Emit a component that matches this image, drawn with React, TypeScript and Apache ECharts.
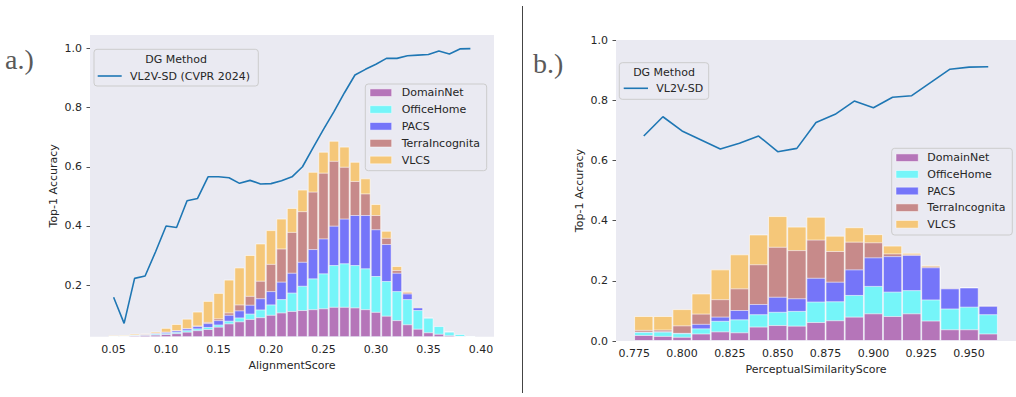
import React, { useEffect, useRef } from 'react';
import * as echarts from 'echarts';

// ---------- data ----------
const datasetNames = ['DomainNet', 'OfficeHome', 'PACS', 'TerraIncognita', 'VLCS'];
const datasetColors = ['#B575B9', '#75F5F9', '#7575F9', '#C78A8A', '#F5C779'];

// a.) AlignmentScore bins (bin centres)
const alignX = [0.05, 0.06, 0.07, 0.08, 0.09, 0.10, 0.11, 0.12, 0.13, 0.14, 0.15, 0.16, 0.17, 0.18, 0.19, 0.20, 0.21, 0.22, 0.23, 0.24, 0.25, 0.26, 0.27, 0.28, 0.29, 0.30, 0.31, 0.32, 0.33, 0.34, 0.35, 0.36, 0.37, 0.38, 0.39];
const alignDomainNet = [0.027, 0.028, 0.030, 0.032, 0.033, 0.035, 0.038, 0.043, 0.048, 0.052, 0.060, 0.071, 0.078, 0.086, 0.092, 0.100, 0.108, 0.113, 0.116, 0.119, 0.122, 0.127, 0.127, 0.125, 0.119, 0.110, 0.097, 0.082, 0.068, 0.053, 0.041, 0.036, 0.031, 0.028, 0.026];
const alignOfficeHome = [0.001, 0.001, 0.001, 0.001, 0.003, 0.003, 0.004, 0.005, 0.006, 0.007, 0.007, 0.009, 0.013, 0.018, 0.026, 0.035, 0.045, 0.062, 0.082, 0.104, 0.118, 0.141, 0.147, 0.143, 0.138, 0.121, 0.117, 0.098, 0.085, 0.063, 0.049, 0.026, 0.012, 0.007, 0.002];
const alignPACS = [0, 0, 0, 0.001, 0.002, 0.004, 0.005, 0.006, 0.008, 0.013, 0.015, 0.020, 0.024, 0.030, 0.038, 0.045, 0.059, 0.067, 0.081, 0.099, 0.118, 0.133, 0.151, 0.169, 0.180, 0.158, 0.125, 0.062, 0.019, 0.009, 0, 0, 0, 0, 0];
const alignTerra = [0, 0, 0, 0, 0, 0.001, 0.001, 0.001, 0.002, 0.004, 0.006, 0.008, 0.020, 0.030, 0.059, 0.092, 0.112, 0.138, 0.171, 0.194, 0.222, 0.219, 0.175, 0.115, 0.073, 0.048, 0.021, 0.009, 0.004, 0, 0, 0, 0, 0, 0];
const alignVLCS = [0.003, 0.003, 0.005, 0.003, 0.005, 0.013, 0.021, 0.032, 0.047, 0.071, 0.086, 0.111, 0.125, 0.138, 0.126, 0.114, 0.101, 0.081, 0.073, 0.067, 0.071, 0.068, 0.068, 0.065, 0.051, 0.037, 0.024, 0.014, 0.004, 0.002, 0, 0, 0, 0, 0];
const alignAccuracy = [0.159, 0.071, 0.223, 0.231, 0.313, 0.400, 0.395, 0.485, 0.493, 0.566, 0.566, 0.563, 0.544, 0.554, 0.542, 0.543, 0.553, 0.566, 0.600, 0.664, 0.726, 0.786, 0.850, 0.910, 0.929, 0.946, 0.966, 0.966, 0.975, 0.977, 0.979, 0.991, 0.981, 0.998, 0.999];

// b.) PerceptualSimilarityScore bins (bin centres)
const percX = [0.78, 0.79, 0.80, 0.81, 0.82, 0.83, 0.84, 0.85, 0.86, 0.87, 0.88, 0.89, 0.90, 0.91, 0.92, 0.93, 0.94, 0.95, 0.96];
const percDomainNet = [0.020, 0.017, 0.014, 0.025, 0.032, 0.029, 0.048, 0.053, 0.051, 0.063, 0.069, 0.081, 0.092, 0.083, 0.092, 0.068, 0.039, 0.039, 0.025];
const percOfficeHome = [0.010, 0.014, 0.012, 0.017, 0.035, 0.043, 0.041, 0.044, 0.049, 0.068, 0.063, 0.072, 0.091, 0.081, 0.077, 0.070, 0.069, 0.075, 0.064];
const percPACS = [0.001, 0.001, 0.001, 0.015, 0.014, 0.031, 0.034, 0.050, 0.042, 0.079, 0.065, 0.085, 0.095, 0.118, 0.117, 0.107, 0.067, 0.064, 0.028];
const percTerra = [0.006, 0.006, 0.025, 0.034, 0.058, 0.072, 0.132, 0.166, 0.160, 0.127, 0.102, 0.092, 0.050, 0.009, 0.002, 0.003, 0, 0, 0];
const percVLCS = [0.046, 0.045, 0.054, 0.067, 0.099, 0.113, 0.099, 0.102, 0.078, 0.076, 0.051, 0.048, 0.027, 0.026, 0.005, 0.004, 0, 0, 0];
const percAccuracy = [0.681, 0.745, 0.698, 0.668, 0.638, 0.657, 0.681, 0.629, 0.640, 0.726, 0.753, 0.797, 0.775, 0.810, 0.815, 0.859, 0.903, 0.910, 0.911];

// tick labels
const alignXTicks = [0.05, 0.10, 0.15, 0.20, 0.25, 0.30, 0.35, 0.40];
const alignYTicks = [0.2, 0.4, 0.6, 0.8, 1.0];
const percXTicks = [0.775, 0.800, 0.825, 0.850, 0.875, 0.900, 0.925, 0.950];
const percYTicks = [0.0, 0.2, 0.4, 0.6, 0.8, 1.0];

const lineNameA = 'VL2V-SD (CVPR 2024)';
const lineNameB = 'VL2V-SD';

// ---------- styles ----------
const TEXT = '#262626';
const FONT = 'DejaVu Sans';
const BG = '#EAEAF2';
const LINE = '#1F77B4';

function stackedBars(xs: number[], layers: number[][], axis: number, barWidth: number) {
  const cum: number[][] = [];
  let run = xs.map(() => 0);
  layers.forEach((l) => {
    run = run.map((v, i) => v + l[i]);
    cum.push(run.slice());
  });
  const out: any[] = [];
  for (let k = layers.length - 1; k >= 0; k--) {
    out.push({
      type: 'bar',
      name: datasetNames[k],
      xAxisIndex: axis,
      yAxisIndex: axis,
      barWidth,
      barGap: '-100%',
      clip: true,
      data: xs.map((x, i) => [x, +cum[k][i].toFixed(4)]),
      itemStyle: { color: datasetColors[k], borderColor: 'rgba(255,255,255,0.6)', borderWidth: 1 },
    });
  }
  return out;
}

function lineSeries(name: string, xs: number[], ys: number[], axis: number) {
  return {
    type: 'line',
    name,
    xAxisIndex: axis,
    yAxisIndex: axis,
    data: xs.map((x, i) => [x, ys[i]]),
    showSymbol: false,
    symbol: 'none',
    lineStyle: { color: LINE, width: 1.6 },
    z: 5,
  };
}

const labelStyle = { fontSize: 11, color: TEXT, fontFamily: FONT };

function xAxis(grid: number, min: number, max: number, ticks: number[], digits: number, name: string) {
  return {
    type: 'value',
    gridIndex: grid,
    min,
    max,
    splitLine: { show: false },
    axisLine: { show: false },
    axisTick: { show: false },
    axisLabel: {
      ...labelStyle,
      margin: 7,
      customValues: ticks,
      showMinLabel: true,
      showMaxLabel: true,
      hideOverlap: false,
      formatter: (v: number) => (ticks.some((t) => Math.abs(t - v) < 1e-6) ? v.toFixed(digits) : ''),
    },
    name,
    nameLocation: 'middle',
    nameGap: 23,
    nameTextStyle: labelStyle,
  };
}

function yAxis(grid: number, min: number, max: number, ticks: number[]) {
  return {
    type: 'value',
    gridIndex: grid,
    min,
    max,
    splitLine: { show: false },
    axisLine: { show: false },
    axisTick: { show: true, length: 3.5, customValues: ticks, lineStyle: { color: TEXT, width: 0.8 } },
    axisLabel: {
      ...labelStyle,
      margin: 8,
      customValues: ticks,
      showMinLabel: true,
      showMaxLabel: true,
      formatter: (v: number) => (ticks.some((t) => Math.abs(t - v) < 1e-6) ? v.toFixed(1) : ''),
    },
    name: 'Top-1 Accuracy',
    nameLocation: 'middle',
    nameGap: 31,
    nameTextStyle: labelStyle,
  };
}

function txt(text: string, x: number, y: number, align = 'left', extra: any = {}) {
  return {
    type: 'text',
    z: 100,
    style: { text, x, y, fill: TEXT, fontSize: 11, fontFamily: FONT, align, verticalAlign: 'middle', ...extra },
  };
}

function box(x: number, y: number, width: number, height: number) {
  return {
    type: 'rect',
    z: 99,
    shape: { x, y, width, height, r: 3 },
    style: { fill: BG, stroke: '#CCCCCC', lineWidth: 1 },
  };
}

function lineLegend(x: number, y: number, w: number, h: number, titleY: number, lx1: number, lx2: number, ly: number, label: string, tx: number) {
  return [
    box(x, y, w, h),
    txt('DG Method', x + w / 2, titleY, 'center'),
    { type: 'line', z: 100, shape: { x1: lx1, y1: ly, x2: lx2, y2: ly }, style: { stroke: LINE, lineWidth: 1.6 } },
    txt(label, tx, ly),
  ];
}

function patchLegend(x: number, y: number, w: number, h: number, px: number, pw: number, ys: number[], tx: number) {
  const els: any[] = [box(x, y, w, h)];
  datasetNames.forEach((n, i) => {
    els.push({
      type: 'rect',
      z: 100,
      shape: { x: px, y: ys[i] - 3.8, width: pw, height: 7.6 },
      style: { fill: datasetColors[i], stroke: 'rgba(255,255,255,0.6)', lineWidth: 0.8 },
    });
    els.push(txt(n, tx, ys[i]));
  });
  return els;
}

export default function App() {
  const ref = useRef<HTMLDivElement>(null);

  useEffect(() => {
    document.body.style.margin = '0';
    const chart = echarts.init(ref.current!, undefined, { renderer: 'svg' });
    const option: any = {
      animation: false,
      backgroundColor: '#FFFFFF',
      textStyle: { fontFamily: FONT },
      grid: [
        { left: 90, top: 35, width: 404, height: 301.7, show: true, backgroundColor: BG, borderWidth: 0 },
        { left: 616, top: 40, width: 404, height: 301, show: true, backgroundColor: BG, borderWidth: 0 },
      ],
      xAxis: [
        xAxis(0, 0.0275, 0.4125, alignXTicks, 2, 'AlignmentScore'),
        xAxis(1, 0.7655, 0.9745, percXTicks, 3, 'PerceptualSimilarityScore'),
      ],
      yAxis: [yAxis(0, 0.026, 1.045, alignYTicks), yAxis(1, 0, 1, percYTicks)],
      series: [
        ...stackedBars(alignX, [alignDomainNet, alignOfficeHome, alignPACS, alignTerra, alignVLCS], 0, 10.5),
        lineSeries(lineNameA, alignX, alignAccuracy, 0),
        ...stackedBars(percX, [percDomainNet, percOfficeHome, percPACS, percTerra, percVLCS], 1, 19.3),
        lineSeries(lineNameB, percX, percAccuracy, 1),
      ],
      graphic: [
        { type: 'line', z: 100, shape: { x1: 522.5, y1: 6, x2: 522.5, y2: 393 }, style: { stroke: '#444444', lineWidth: 1 } },
        { type: 'text', z: 100, style: { text: 'a.)', x: 5, y: 45, fill: '#5A5A5A', fontSize: 28, fontFamily: 'Liberation Serif', verticalAlign: 'alphabetic' } },
        { type: 'text', z: 100, style: { text: 'b.)', x: 533, y: 49, fill: '#5A5A5A', fontSize: 28, fontFamily: 'Liberation Serif', verticalAlign: 'alphabetic' } },
        ...lineLegend(94, 49.3, 164.3, 36.7, 59.5, 97.7, 121.7, 76, lineNameA, 130),
        ...patchLegend(365.3, 84, 121.4, 86.7, 370, 21.7, [92.7, 109.5, 126.3, 143.2, 160], 401.7),
        ...lineLegend(619.3, 62.7, 89.4, 36.6, 72.5, 623.7, 648, 88.3, lineNameB, 656.3),
        ...patchLegend(891.7, 148.3, 120.6, 86.7, 896, 22.3, [157.7, 174.3, 191, 207.7, 224.3], 927.3),
      ],
    };
    chart.setOption(option);
    return () => chart.dispose();
  }, []);

  return <div ref={ref} style={{ width: 1016, height: 397 }} />;
}
